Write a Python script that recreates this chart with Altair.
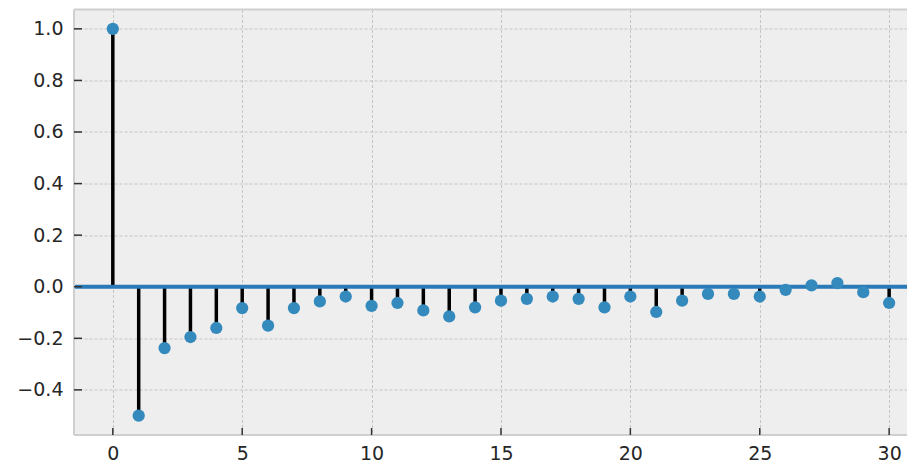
import altair as alt
import pandas as pd

lags = list(range(31))
acf = [1.0, -0.50, -0.238, -0.195, -0.160, -0.083, -0.151, -0.083, -0.057, -0.038,
       -0.074, -0.063, -0.092, -0.115, -0.080, -0.054, -0.047, -0.038, -0.047, -0.080,
       -0.038, -0.098, -0.054, -0.028, -0.028, -0.038, -0.012, 0.005, 0.014, -0.021,
       -0.063]
x_ticks = [0, 5, 10, 15, 20, 25, 30]
y_ticks = [-0.4, -0.2, 0.0, 0.2, 0.4, 0.6, 0.8, 1.0]

df = pd.DataFrame({"lag": lags, "acf": acf, "zero": [0.0] * len(lags)})
yt = pd.DataFrame({"v": y_ticks})
xt = pd.DataFrame({"v": x_ticks})

FS = 19
W = 833
H = 425.5
xscale = alt.Scale(domain=[-1.5, 30.69], nice=False, zero=False)
yscale = alt.Scale(domain=[-0.575, 1.075], nice=False, zero=False)

xaxis = alt.Axis(values=x_ticks, title=None, grid=True, gridDash=[3, 2], gridColor="#c4c4c4",
                 gridWidth=1, ticks=False, domain=False, labelFontSize=FS, labelColor="#262626",
                 labelFont="DejaVu Sans", labelPadding=9)
yaxis = alt.Axis(values=y_ticks, title=None, grid=True, gridDash=[3, 2], gridColor="#c4c4c4",
                 gridWidth=1, ticks=False, domain=False, labelFontSize=FS, labelColor="#262626",
                 labelFont="DejaVu Sans", labelPadding=11, format=".1f")

base = alt.Chart(df)

stems = base.mark_rule(color="black", strokeWidth=3.5).encode(
    x=alt.X("lag:Q", scale=xscale, axis=xaxis),
    y=alt.Y("zero:Q", scale=yscale, axis=yaxis),
    y2="acf:Q",
)

zero_line = alt.Chart(pd.DataFrame({"z": [0.0]})).mark_rule(color="#2a7ab8", strokeWidth=4).encode(
    y=alt.Y("z:Q", scale=yscale),
    x=alt.value(0), x2=alt.value(W),
)

points = base.mark_circle(color="#348ABD", opacity=1, size=150).encode(
    x=alt.X("lag:Q", scale=xscale),
    y=alt.Y("acf:Q", scale=yscale),
)

ytick_marks = alt.Chart(yt).mark_rule(color="#333333", strokeWidth=1.5).encode(
    y=alt.Y("v:Q", scale=yscale), x=alt.value(0), x2=alt.value(8),
)
xtick_marks = alt.Chart(xt).mark_rule(color="#333333", strokeWidth=1.5).encode(
    x=alt.X("v:Q", scale=xscale), y=alt.value(H), y2=alt.value(H - 7),
)

border_col = "#cfcfcf"
border_top = alt.Chart(pd.DataFrame({"b": [0]})).mark_rule(color=border_col, strokeWidth=2).encode(
    x=alt.value(0), x2=alt.value(W), y=alt.value(0))
border_bottom = alt.Chart(pd.DataFrame({"b": [0]})).mark_rule(color=border_col, strokeWidth=2).encode(
    x=alt.value(0), x2=alt.value(W), y=alt.value(H))
border_left = alt.Chart(pd.DataFrame({"b": [0]})).mark_rule(color=border_col, strokeWidth=2).encode(
    x=alt.value(0), y=alt.value(0), y2=alt.value(H))

chart = alt.layer(stems, zero_line, border_top, border_bottom, border_left,
                  ytick_marks, xtick_marks, points).properties(
    width=W, height=H,
    autosize=alt.AutoSizeParams(type="none"),
    padding={"left": 66, "top": 1.5, "right": 0, "bottom": 31},
    background="white",
).configure_view(
    fill="#EEEEEE", stroke=None, strokeWidth=0,
)

chart.save("out.html", embed_options={"renderer": "svg", "actions": False})
